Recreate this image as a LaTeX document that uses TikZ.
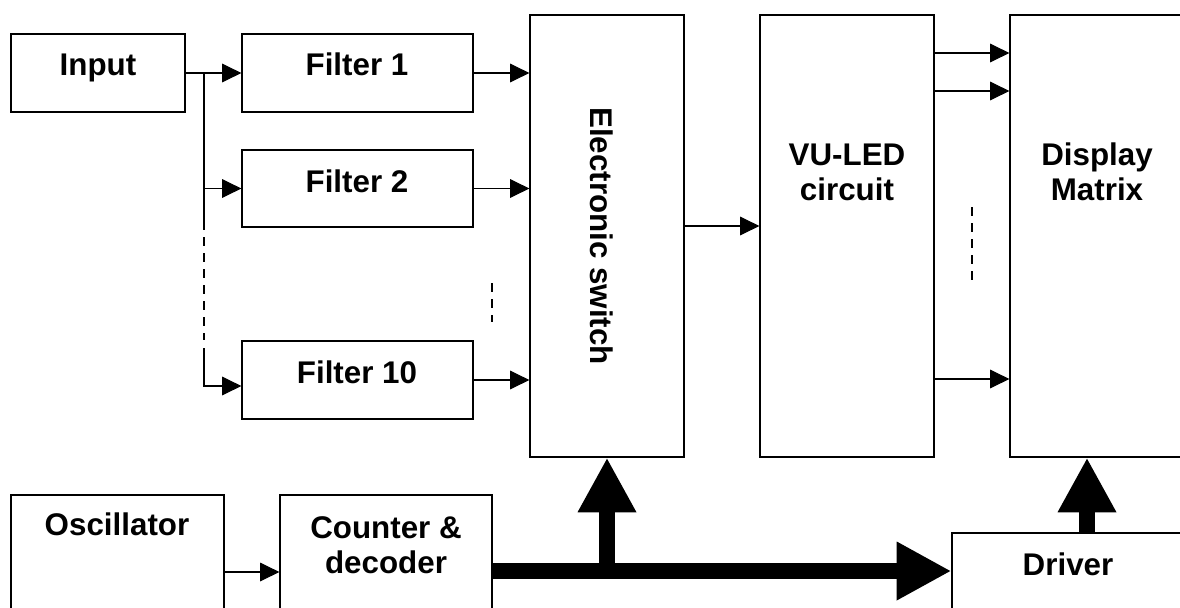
\documentclass[tikz,border=0pt]{standalone}
\usepackage{fontspec}
\setmainfont{Liberation Sans}
\usetikzlibrary{arrows.meta,fit}
\begin{document}
\begin{tikzpicture}[x=0.75pt,y=-0.75pt,
  box/.style={draw,line width=0.9pt,inner sep=0pt},
  lbl/.style={font=\fontsize{23.5}{26.25}\selectfont\bfseries,inner sep=0pt,align=center},
  wire/.style={line width=0.8pt},
  sig/.style={line width=0.8pt,-{Triangle[length=14.5pt,width=14pt]}},
  busarrow/.style={line width=12pt,-{Triangle[length=41pt,width=41pt]}},
  dashline/.style={line width=0.8pt,dash pattern=on 7pt off 5pt}]
\useasboundingbox (0,0) rectangle (1180,607);
\clip (0,0) rectangle (1180,607);
% boxes
\node[box,fit={(11,34) (185,112)}] (inp) {};
\node[box,fit={(242,34) (473,112)}] (f1) {};
\node[box,fit={(242,150) (473,227)}] (f2) {};
\node[box,fit={(242,341) (473,419)}] (f10) {};
\node[box,fit={(530,15) (684,457)}] (es) {};
\node[box,fit={(760,15) (934,457)}] (vu) {};
\node[box,fit={(1010,15) (1184,457)}] (disp) {};
\node[box,fit={(11,495) (224,640)}] (osc) {};
\node[box,fit={(280,495) (492,640)}] (cnt) {};
\node[box,fit={(952,533) (1184,640)}] (drv) {};
% labels
\node[lbl,anchor=base] (tinp) at (98,75) {Input};
\node[lbl,anchor=base] (tf1) at (357,75) {Filter 1};
\node[lbl,anchor=base] (tf2) at (357,192) {Filter 2};
\node[lbl,anchor=base] (tf10) at (357,383) {Filter 10};
\node[lbl,rotate=-90] (tes) at (602,236) {Electronic switch};
\node[lbl,anchor=base] (tvu) at (847,200) {VU-LED\\circuit};
\node[lbl,anchor=base] (tdisp) at (1097,200) {Display\\Matrix};
\node[lbl,anchor=base] (tosc) at (117,535) {Oscillator};
\node[lbl,anchor=base] (tcnt) at (386,573) {Counter \&\\decoder};
\node[lbl,anchor=base] (tdrv) at (1068,575) {Driver};
% input branches
\coordinate (b1) at (204,73);
\coordinate (b2) at (204,221);
\coordinate (b3) at (204,340);
\coordinate (b4) at (204,348);
\coordinate (b5) at (204,386);
\draw[sig] (inp.east) -- (f1.west);
\draw[wire] (b1) -- (b2);
\draw[dashline] (b2) -- (b3);
\draw[sig] (b1 |- f2.west) -- (f2.west);
\draw[sig] (b4) -- (b5) -- (b5 -| f10.west);
% filters to switch
\draw[sig] (f1.east) -- (f1.east -| es.west);
\draw[sig] (f2.east) -- (f2.east -| es.west);
\draw[sig] (f10.east) -- (f10.east -| es.west);
\coordinate (c1) at (492,283);
\coordinate (c2) at (492,322);
\draw[dashline] (c1) -- (c2);
% switch to VU
\coordinate (ev) at (684,226);
\draw[sig] (ev) -- (ev -| vu.west);
% VU to display
\coordinate (v1) at (934,53);
\coordinate (v2) at (934,91);
\coordinate (v3) at (934,379);
\draw[sig] (v1) -- (v1 -| disp.west);
\draw[sig] (v2) -- (v2 -| disp.west);
\draw[sig] (v3) -- (v3 -| disp.west);
\coordinate (d1) at (972,207);
\coordinate (d2) at (972,282);
\draw[dashline] (d1) -- (d2);
% oscillator to counter
\coordinate (oc) at (224,572);
\draw[sig] (oc) -- (oc -| cnt.west);
% bus
\coordinate (bus) at (492,571);
\draw[busarrow] (bus) -- (bus -| drv.west);
\draw[busarrow] (bus -| es.south) -- (es.south);
\coordinate (dtap) at (1087,533);
\draw[busarrow] (dtap) -- (dtap |- disp.south);
\end{tikzpicture}
\end{document}
